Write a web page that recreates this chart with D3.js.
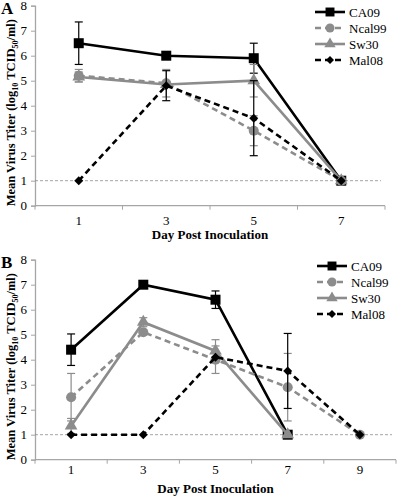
<!DOCTYPE html>
<html><head><meta charset="utf-8">
<script src="https://cdn.jsdelivr.net/npm/d3@7"></script>
<style>body{margin:0;background:#fff}svg{display:block}</style>
</head><body><div id="c"></div>
<script>
const seriesNames = ["CA09","Ncal99","Sw30","Mal08"];
const daysA = [1,3,5,7];
const valuesA = {
  CA09:  [6.5, 6.0, 5.9, 1.0],
  Ncal99:[5.2, 4.9, 3.0, 1.0],
  Sw30:  [5.15,4.85,5.0, 1.0],
  Mal08: [1.0, 4.8, 3.5, 1.0]
};
const errorsA = {
  CA09:  [0.85,0,0.6,0],
  Ncal99:[0.25,0.55,0.6,0],
  Sw30:  [0.2,0,0.65,0],
  Mal08: [0,0.6,1.5,0]
};
const daysB = [1,3,5,7,9];
const valuesB = {
  CA09:  [4.4, 7.0, 6.4, 1.0, null],
  Ncal99:[2.5, 5.1, 4.0, 2.9, 1.0],
  Sw30:  [1.35,5.5, 4.35,1.0, null],
  Mal08: [1.0, 1.0, 4.1, 3.55,1.0]
};
const errorsB = {
  CA09:  [0.63,0,0.35,0,0],
  Ncal99:[0.95,0.1,0.55,1.35,0],
  Sw30:  [0.3,0.18,0.45,0,0],
  Mal08: [0,0,0,1.5,0]
};
const yTicks = [0,1,2,3,4,5,6,7,8];
const limitValue = 1;

const FONT = "Liberation Serif, Times New Roman, serif";
const style = {
  CA09:  {color:"#000", dash:null, shape:"square"},
  Ncal99:{color:"#8c8c8c", dash:"6,4", shape:"circle"},
  Sw30:  {color:"#8c8c8c", dash:null, shape:"triangle"},
  Mal08: {color:"#000", dash:"6,4", shape:"diamond"}
};
const symType = {square:d3.symbolSquare, circle:d3.symbolCircle, triangle:d3.symbolTriangle, diamond:d3.symbolSquare};
const symSize = {square:100, circle:80, triangle:70, diamond:40};
const symRot = {square:0, circle:0, triangle:0, diamond:45};

const svg = d3.select("#c").append("svg").attr("width",400).attr("height",496)
  .style("font-family",FONT);

function panel(top, label, days, values, errors, xRight, legendX, legendY, tickLabelY, titleY) {
  const g = svg.append("g");
  const y = d3.scaleLinear().domain([0,8]).range([top+200, top]);
  const x = d3.scaleBand().domain(days).range([35, xRight]).padding(0);
  const cx = d => x(d) + x.bandwidth()/2;

  const ya = g.append("g").attr("transform","translate(35,0)")
    .call(d3.axisLeft(y).tickValues(yTicks).tickSize(4).tickFormat(""));
  ya.select(".domain").attr("stroke","#a6a6a6").attr("stroke-width",1.3);
  ya.selectAll(".tick line").attr("stroke","#a6a6a6");
  g.selectAll(".yl").data(yTicks).enter().append("text")
    .attr("x",27).attr("y",d=>y(d)+4.5).attr("text-anchor","end").attr("font-size",13)
    .style("font-family",FONT).attr("fill","#000").text(d=>d);

  g.append("line").attr("x1",35).attr("x2",xRight).attr("y1",y(0)).attr("y2",y(0))
    .attr("stroke","#a6a6a6").attr("stroke-width",1.3);
  const bounds = days.map(d=>x(d)).concat([xRight]);
  g.selectAll(".bt").data(bounds).enter().append("line")
    .attr("x1",d=>d).attr("x2",d=>d).attr("y1",y(0)).attr("y2",y(0)+4).attr("stroke","#a6a6a6");
  g.selectAll(".xl").data(days).enter().append("text")
    .attr("x",d=>cx(d)).attr("y",tickLabelY).attr("text-anchor","middle").attr("font-size",13)
    .style("font-family",FONT).text(d=>d);
  g.append("text").attr("x",(35+xRight)/2).attr("y",titleY).attr("text-anchor","middle")
    .attr("font-size",13).attr("font-weight","bold").style("font-family",FONT).text("Day Post Inoculation");

  const yt = g.append("text").attr("transform",`translate(15,${top+107}) rotate(-90)`)
    .attr("text-anchor","middle").attr("font-size",12.5).attr("font-weight","bold").style("font-family",FONT);
  yt.append("tspan").text("Mean Virus Titer (log");
  yt.append("tspan").attr("font-size",8).attr("dy",3).text("10");
  yt.append("tspan").attr("dy",-3).text(" TCID");
  yt.append("tspan").attr("font-size",8).attr("dy",3).text("50");
  yt.append("tspan").attr("dy",-3).text("/ml)");

  g.append("text").attr("x",1).attr("y",top+8).attr("font-size",17).attr("font-weight","bold")
    .style("font-family",FONT).text(label);

  g.append("line").attr("x1",35).attr("x2",xRight-4).attr("y1",y(limitValue)).attr("y2",y(limitValue))
    .attr("stroke","#8c8c8c").attr("stroke-width",0.8).attr("stroke-dasharray","3,2");

  seriesNames.forEach(name => {
    const st = style[name];
    const pts = days.map((d,i)=>({d, v:values[name][i], e:errors[name][i]})).filter(p=>p.v!=null);
    const line = d3.line().x(p=>cx(p.d)).y(p=>y(p.v));
    pts.filter(p=>p.e>0).forEach(p=>{
      const x0 = cx(p.d);
      g.append("line").attr("x1",x0).attr("x2",x0).attr("y1",y(p.v+p.e)).attr("y2",y(p.v-p.e)).attr("stroke",st.color).attr("stroke-width",1.2);
      [p.v+p.e,p.v-p.e].forEach(v=>g.append("line").attr("x1",x0-4).attr("x2",x0+4).attr("y1",y(v)).attr("y2",y(v)).attr("stroke",st.color).attr("stroke-width",1.2));
    });
    g.append("path").datum(pts).attr("d",line).attr("fill","none").attr("stroke",st.color)
      .attr("stroke-width",2.6).attr("stroke-dasharray",st.dash);
    g.selectAll(null).data(pts).enter().append("path")
      .attr("d",d3.symbol().type(symType[st.shape]).size(symSize[st.shape]))
      .attr("transform",p=>`translate(${cx(p.d)},${y(p.v)}) rotate(${symRot[st.shape]})`).attr("fill",st.color);
  });

  seriesNames.forEach((name,i)=>{
    const st = style[name];
    const ly = legendY + i*16;
    g.append("line").attr("x1",legendX).attr("x2",legendX+30).attr("y1",ly).attr("y2",ly)
      .attr("stroke",st.color).attr("stroke-width",2.6).attr("stroke-dasharray",st.dash);
    g.append("path").attr("d",d3.symbol().type(symType[st.shape]).size(symSize[st.shape]*0.8))
      .attr("transform",`translate(${legendX+15},${ly}) rotate(${symRot[st.shape]})`).attr("fill",st.color);
    g.append("text").attr("x",legendX+34).attr("y",ly+4.5).attr("font-size",13)
      .style("font-family",FONT).text(name);
  });
}

panel(5.7, "A", daysA, valuesA, errorsA, 385, 315, 12, 225, 239);
panel(259.7, "B", daysB, valuesB, errorsB, 396, 317, 266, 474, 493);
</script></body></html>
